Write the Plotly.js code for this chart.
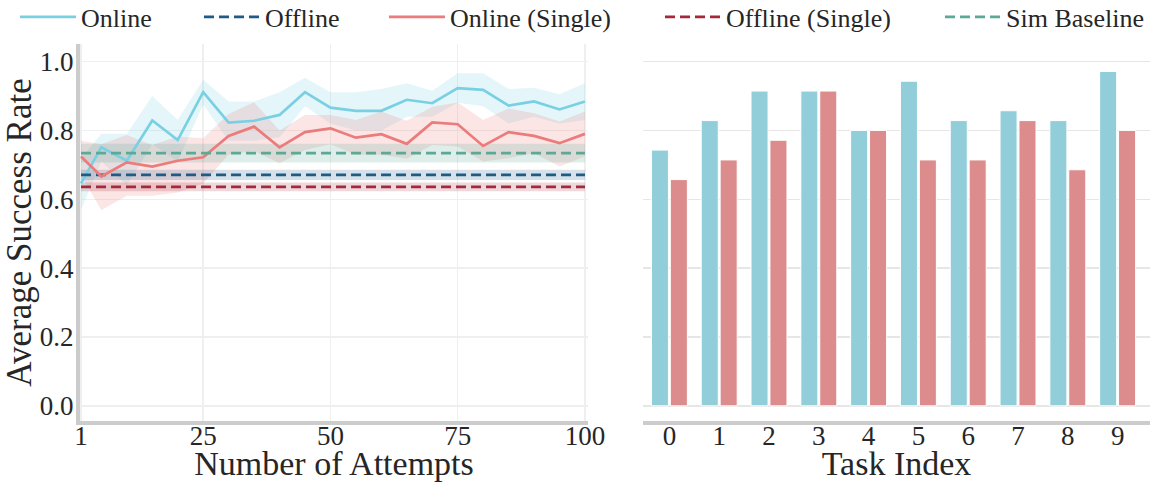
<!DOCTYPE html>
<html>
<head>
<meta charset="utf-8">
<script src="https://cdn.plot.ly/plotly-3.0.1.min.js"></script>
<style>html,body{margin:0;padding:0;background:#fff;}#chart{width:1150px;height:482px;}</style>
</head>
<body>
<div id="chart"></div>
<script>
// ---- data ----
const attempts = [1,5,10,15,20,25,30,35,40,45,50,55,60,65,70,75,80,85,90,95,100];
const onlineMean  = [0.646,0.751,0.712,0.829,0.772,0.911,0.823,0.828,0.845,0.911,0.866,0.857,0.857,0.889,0.879,0.923,0.918,0.872,0.884,0.861,0.884];
const onlineUpper = [0.720,0.790,0.790,0.900,0.830,0.947,0.884,0.884,0.911,0.953,0.911,0.911,0.920,0.937,0.915,0.966,0.966,0.920,0.924,0.905,0.937];
const onlineLower = [0.570,0.710,0.640,0.760,0.710,0.875,0.770,0.770,0.780,0.870,0.820,0.800,0.800,0.840,0.840,0.880,0.870,0.820,0.840,0.820,0.830];
const singleMean  = [0.724,0.666,0.707,0.695,0.712,0.722,0.784,0.811,0.751,0.795,0.806,0.779,0.789,0.761,0.823,0.818,0.755,0.795,0.784,0.763,0.790];
const singleUpper = [0.770,0.760,0.787,0.758,0.782,0.777,0.848,0.882,0.800,0.845,0.845,0.830,0.855,0.828,0.869,0.881,0.830,0.864,0.850,0.826,0.855];
const singleLower = [0.670,0.569,0.610,0.610,0.620,0.646,0.730,0.740,0.705,0.743,0.760,0.729,0.729,0.718,0.758,0.753,0.710,0.719,0.734,0.695,0.724];
const offlineMean = 0.671, offlineStd = 0.015;
const offlineSingleMean = 0.636, offlineSingleStd = 0.013;
const simMean = 0.734, simStd = 0.027;

const taskIndex = [0,1,2,3,4,5,6,7,8,9];
const taskOnline = [26/35,29/35,32/35,32/35,28/35,33/35,29/35,30/35,29/35,34/35];
const taskSingle = [23/35,25/35,27/35,32/35,28/35,25/35,25/35,29/35,24/35,28/35];

const leftTicks = [1,25,50,75,100];
const yTicks = [0,0.2,0.4,0.6,0.8,1.0];

// ---- styles ----
const C = {
  online:'#7ad0e3', offline:'#1f5b85', single:'#ec7b7b', offSingle:'#a3293b', sim:'#5ea896',
  barOnline:'#92ced9', barSingle:'#dc8c8c'
};
const DASH = '10px,5px';
function rgba(hex,a){const n=parseInt(hex.slice(1),16);return `rgba(${n>>16},${(n>>8)&255},${n&255},${a})`;}
function band(xs, up, lo, color, a){
  return {x: xs.concat(xs.slice().reverse()), y: up.concat(lo.slice().reverse()),
    type:'scatter', mode:'lines', fill:'toself', fillcolor: rgba(color,a), line:{width:0},
    hoverinfo:'skip', showlegend:false, xaxis:'x', yaxis:'y'};
}
const xEnds = [attempts[0], attempts[attempts.length-1]];
function hband(m,s,color,a){ return band(xEnds,[m+s,m+s],[m-s,m-s],color,a); }
function hline(m,color,name,leg){
  return {x:xEnds, y:[m,m], type:'scatter', mode:'lines', name:name, legend:leg,
    line:{color:color,width:2.7,dash:DASH}, xaxis:'x', yaxis:'y'};
}

const traces = [
  band(attempts, onlineUpper, onlineLower, C.online, 0.2),
  band(attempts, singleUpper, singleLower, C.single, 0.2),
  hband(simMean, simStd, C.sim, 0.2),
  hband(offlineMean, offlineStd, C.offline, 0.18),
  hband(offlineSingleMean, offlineSingleStd, C.offSingle, 0.18),
  {x:attempts, y:onlineMean, type:'scatter', mode:'lines', name:'Online', legend:'legend', line:{color:C.online,width:2.7}, xaxis:'x', yaxis:'y'},
  hline(offlineMean, C.offline, 'Offline', 'legend2'),
  {x:attempts, y:singleMean, type:'scatter', mode:'lines', name:'Online (Single)', legend:'legend3', line:{color:C.single,width:2.7}, xaxis:'x', yaxis:'y'},
  hline(offlineSingleMean, C.offSingle, 'Offline (Single)', 'legend4'),
  hline(simMean, C.sim, 'Sim Baseline', 'legend5'),
  {x:taskIndex, y:taskOnline, type:'bar', marker:{color:C.barOnline, line:{color:'#ffffff',width:1}}, showlegend:false, xaxis:'x2', yaxis:'y2'},
  {x:taskIndex, y:taskSingle, type:'bar', marker:{color:C.barSingle, line:{color:'#ffffff',width:1}}, showlegend:false, xaxis:'x2', yaxis:'y2'}
];

const W = 1150, H = 482;
const PLOT_TOP = 44, PLOT_BOTTOM = 421;
const font = {family:'"Liberation Serif", "Times New Roman", serif', color:'#262626'};
const yRange = [-0.044, 1.051];
function leg(px){
  return {orientation:'h', xref:'paper', yref:'paper', x:px/W, y:(PLOT_BOTTOM-17)/(PLOT_BOTTOM-PLOT_TOP),
    xanchor:'left', yanchor:'middle', font:Object.assign({size:26}, font), itemwidth:56,
    bgcolor:'rgba(0,0,0,0)', borderwidth:0};
}
const layout = {
  width:W, height:H,
  margin:{l:0,r:0,t:PLOT_TOP,b:H-PLOT_BOTTOM, autoexpand:false},
  paper_bgcolor:'#ffffff', plot_bgcolor:'#ffffff',
  font:Object.assign({size:26}, font),
  showlegend:true,
  legend:leg(15), legend2:leg(199), legend3:leg(384), legend4:leg(660), legend5:leg(940),
  barmode:'group', bargap:0.24, bargroupgap:0.1,
  xaxis:{domain:[80/W, 588/W], range:[0.8,100.6], tickvals:leftTicks, ticktext:leftTicks.map(String),
    showgrid:true, gridcolor:'#efefef', gridwidth:1.5, zeroline:false,
    showline:true, linecolor:'#cccccc', linewidth:4, ticks:'', ticklabelstandoff:-12, tickfont:Object.assign({size:27},font),
    title:{text:'Number of Attempts', font:Object.assign({size:34},font), standoff:8}, anchor:'y', fixedrange:true},
  yaxis:{domain:[0,1], range:yRange, tickvals:yTicks, ticktext:yTicks.map(v=>v.toFixed(1)),
    showgrid:true, gridcolor:'#efefef', gridwidth:1.5, zeroline:false,
    showline:true, linecolor:'#cccccc', linewidth:4, ticks:'', ticklabelstandoff:-3, tickfont:Object.assign({size:27},font),
    title:{text:'Average Success Rate', font:Object.assign({size:35},font), standoff:4}, anchor:'x'},
  xaxis2:{domain:[643/W, 1], range:[-0.53, 9.65], tickvals:taskIndex, ticktext:taskIndex.map(String),
    showgrid:false, zeroline:false, showline:true, linecolor:'#cccccc', linewidth:4, ticks:'', ticklabelstandoff:-12,
    tickfont:Object.assign({size:27},font),
    title:{text:'Task Index', font:Object.assign({size:34},font), standoff:8}, anchor:'y2'},
  yaxis2:{domain:[0,1], range:yRange, tickvals:yTicks, showticklabels:false,
    showgrid:true, gridcolor:'#e6e6e6', gridwidth:1.5, zeroline:false, showline:false, anchor:'x2'}
};

Plotly.newPlot('chart', traces, layout, {displayModeBar:false, staticPlot:true});
</script>
</body>
</html>
